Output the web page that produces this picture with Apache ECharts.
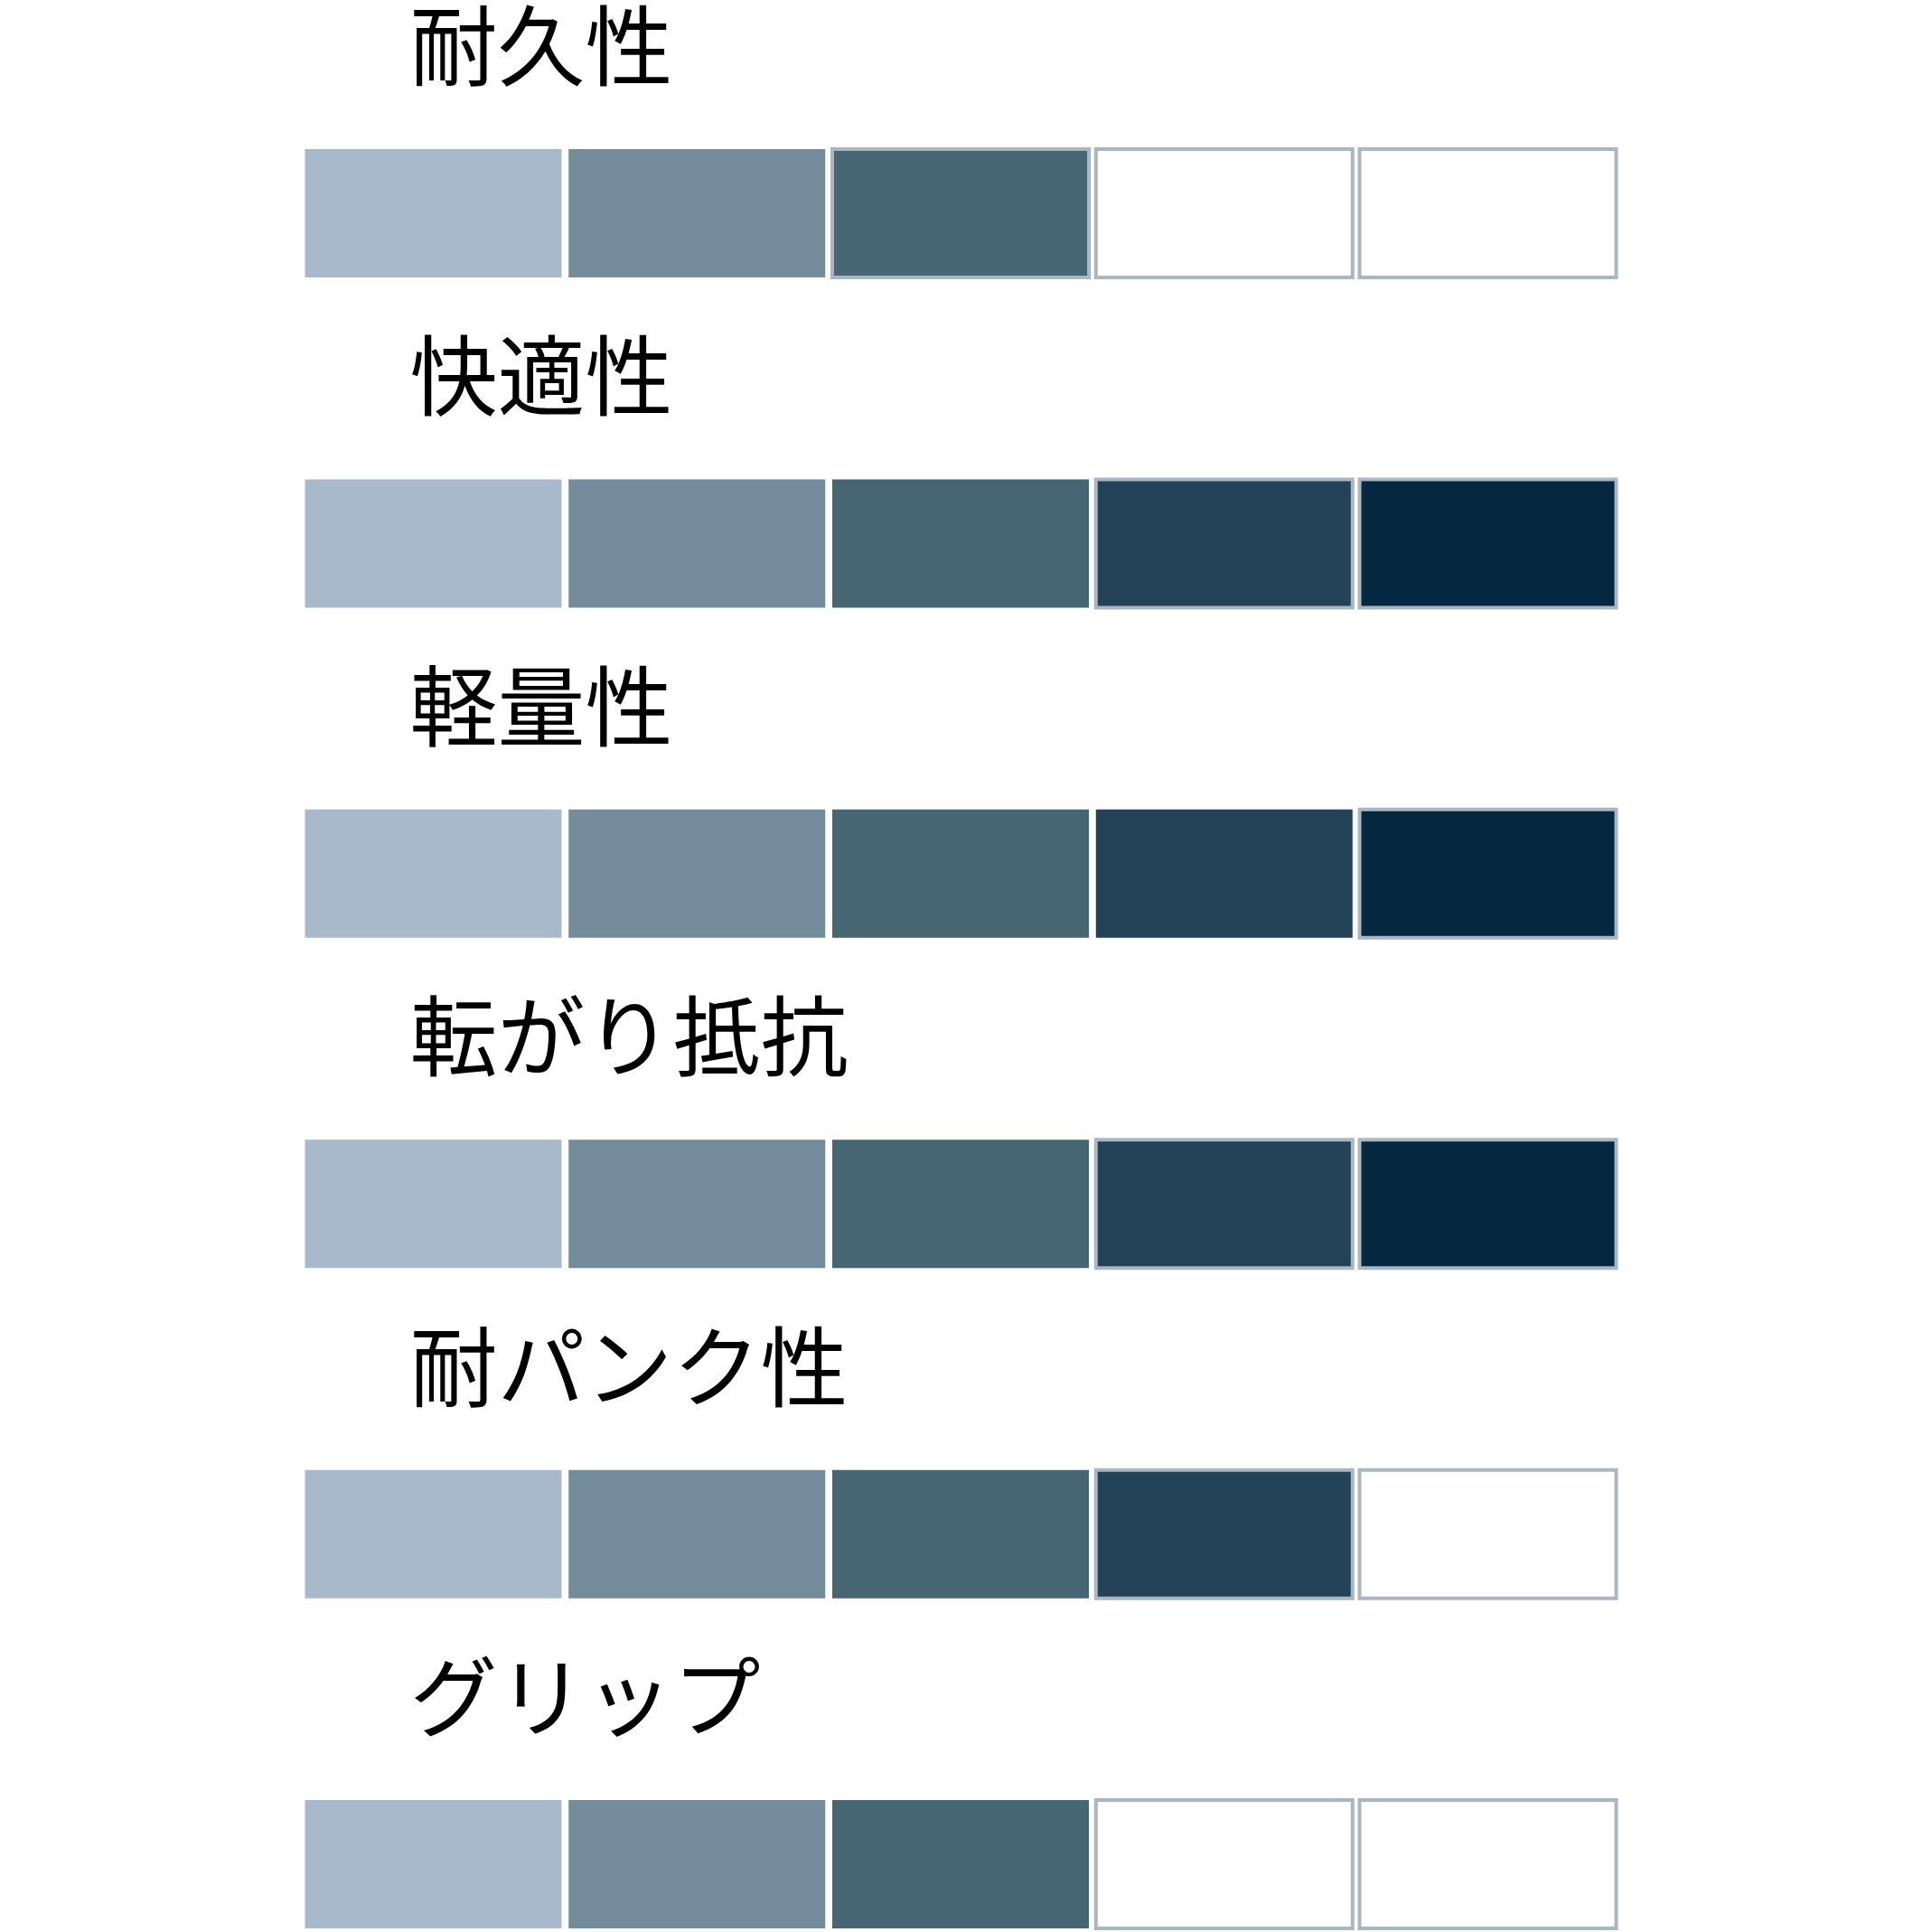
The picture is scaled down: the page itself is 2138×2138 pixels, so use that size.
<!DOCTYPE html>
<html>
<head>
<meta charset="utf-8">
<script src="https://cdn.jsdelivr.net/npm/echarts@6/dist/echarts.min.js"></script>
<style>
html,body{margin:0;padding:0;background:#fff;}
#chart{width:2138px;height:2138px;}
</style>
</head>
<body>
<div id="chart"></div>
<script>
// ---- data ----
const categories = ['耐久性', '快適性', '軽量性', '転がり抵抗', '耐パンク性', 'グリップ'];
const levels = ['1', '2', '3', '4', '5'];
const ratings = [3, 5, 5, 5, 4, 3];
// levels drawn with an outline (besides empty ones)
const outlinedLevels = [[3], [4, 5], [5], [4, 5], [4], []];

// ---- palette ----
const levelColors = ['#a9b9cc', '#728c9c', '#476674', '#234257', '#03283f'];
const outlineColor = '#aab6c2';

const cellData = [];
categories.forEach((cat, r) => {
  levels.forEach((lv, i) => {
    const n = i + 1;
    const filled = n <= ratings[r] ? 1 : 0;
    const outlined = (!filled || outlinedLevels[r].indexOf(n) >= 0) ? 1 : 0;
    cellData.push([i, r, filled, outlined]);
  });
});
const labelData = categories.map((c, r) => [0, r, c]);

const chart = echarts.init(document.getElementById('chart'), null, {renderer: 'canvas'});
chart.setOption({
  backgroundColor: '#ffffff',
  animation: false,
  grid: {left: 333.6, right: 345.6, top: 0, bottom: 0},
  xAxis: {type: 'category', data: levels, show: false},
  // row index axis; the last row runs to the bottom edge of the canvas
  yAxis: {type: 'value', inverse: true, min: -0.646, max: 5.205, show: false},
  series: [
    {
      type: 'custom',
      clip: false,
      data: cellData,
      renderItem: function (params, api) {
        const c = api.coord([api.value(0), api.value(1)]);
        const w = 284, h = 142;
        const filled = api.value(2) === 1;
        const outlined = api.value(3) === 1;
        return {
          type: 'rect',
          shape: {x: c[0] - w / 2, y: c[1] - h / 2, width: w, height: h},
          style: {
            fill: filled ? levelColors[api.value(0)] : '#ffffff',
            stroke: outlined ? outlineColor : null,
            lineWidth: outlined ? 4 : 0
          }
        };
      }
    },
    {
      type: 'custom',
      clip: false,
      data: labelData,
      renderItem: function (params, api) {
        const c = api.coord([api.value(0), api.value(1)]);
        const s = api.size([1, 1]);
        return {
          type: 'text',
          x: c[0] - s[0] / 2 + 120,
          y: c[1] - 186,
          style: {
            text: labelData[params.dataIndex][2],
            fill: '#000000',
            font: '97px "Noto Sans CJK JP"',
            align: 'left',
            verticalAlign: 'middle'
          }
        };
      }
    }
  ]
});
</script>
</body>
</html>
